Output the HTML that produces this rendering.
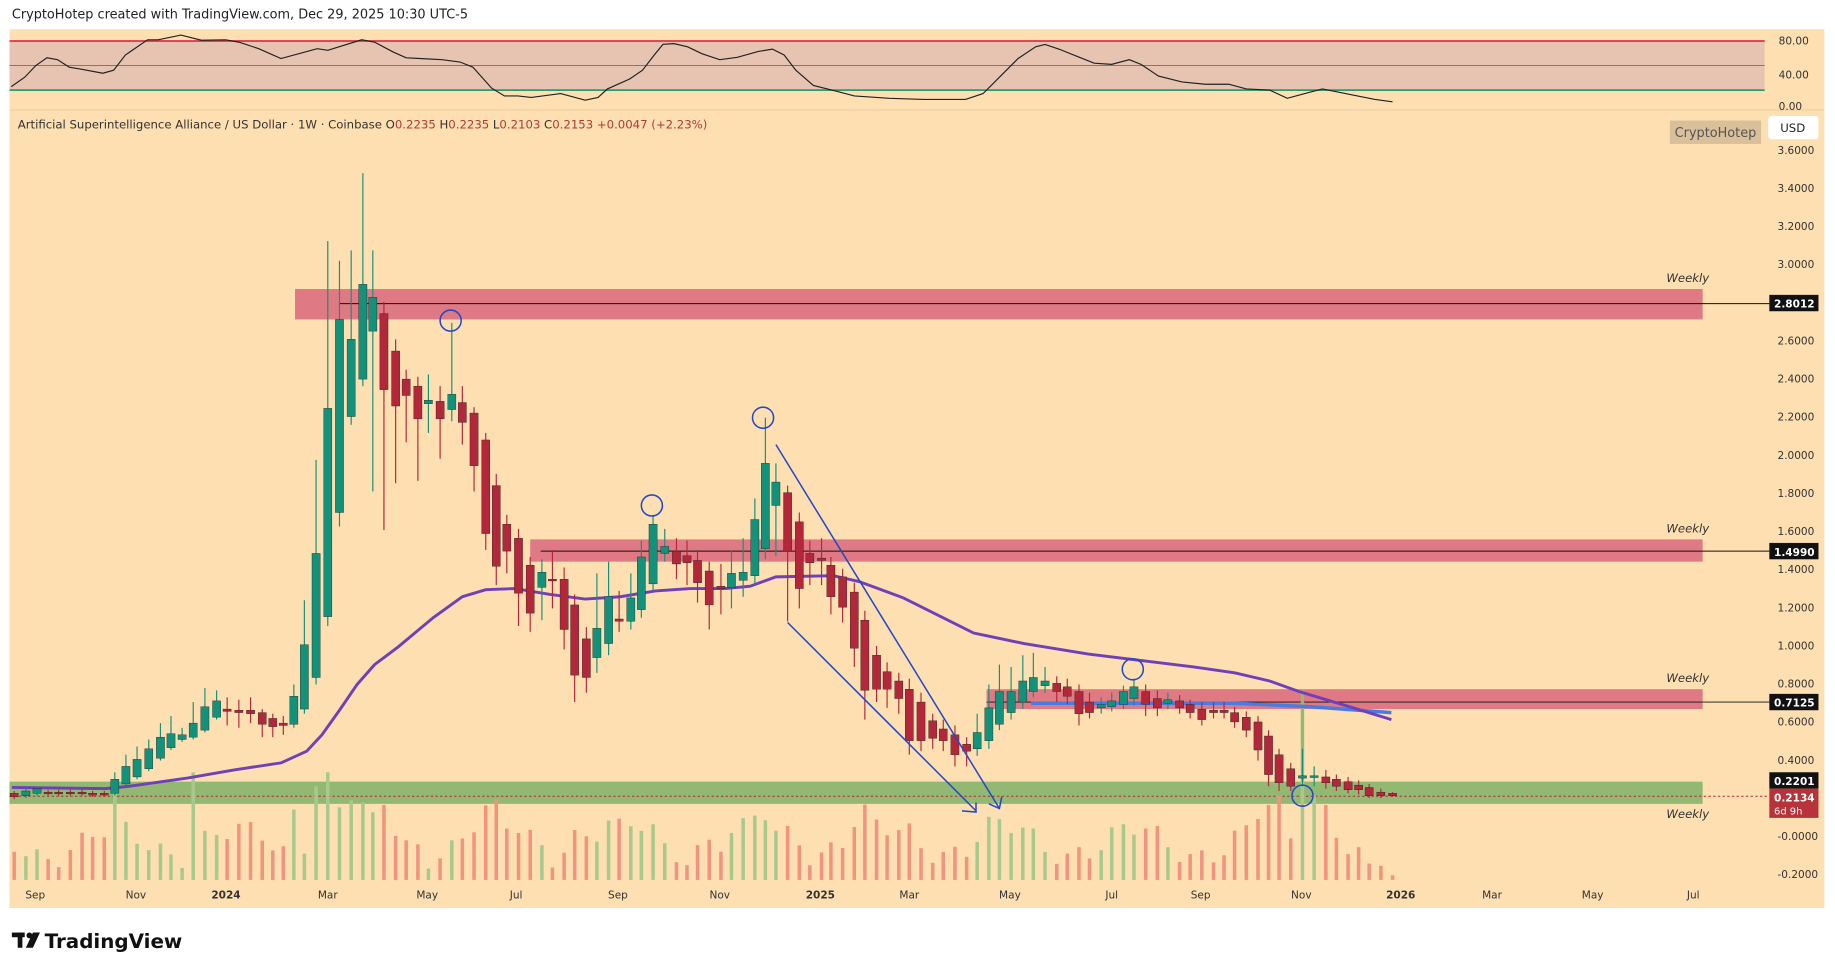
<!DOCTYPE html>
<html><head><meta charset="utf-8"><style>
html,body{margin:0;padding:0;background:#fff;}
svg{display:block;}
text{font-family:"DejaVu Sans","Liberation Sans",sans-serif;}
</style></head><body>
<svg id="s" width="1835" height="970" viewBox="0 0 1568 829" xmlns="http://www.w3.org/2000/svg">
<rect x="0" y="0" width="1568" height="829" fill="#fff"/>
<text x="10" y="16" font-size="11" fill="#222" font-family="Liberation Sans, sans-serif">CryptoHotep created with TradingView.com, Dec 29, 2025 10:30 UTC-5</text>
<rect x="8" y="25" width="1551" height="751" fill="#fddfb1"/>
<rect x="8" y="35" width="1500" height="42" fill="#e6c4b1"/>
<line x1="8" y1="35" x2="1508" y2="35" stroke="#e0304e" stroke-width="1.5"/>
<line x1="8" y1="56" x2="1508" y2="56" stroke="#6b5a50" stroke-width="0.6"/>
<line x1="8" y1="77" x2="1508" y2="77" stroke="#2e9a6e" stroke-width="1.5"/>
<line x1="8" y1="94" x2="1559" y2="94" stroke="#eed0a6" stroke-width="1"/>
<polyline fill="none" stroke="#222" stroke-width="1" points="9.5,74 21,66 30.5,56 40,49.4 49,51 59,57.4 68.7,59 87.7,62.6 97,60 107,47 126,34 135,34 154.5,30 172,34.4 192.6,34 204,36 221,41.6 240,50 271,41.6 280,43 309,34 320,36 336,44.5 347,49.4 358.6,50 377.7,51 393,53 404,57.4 420,75.3 431,82 442.5,82 454,83.3 479,80 500,85.6 511,83.3 519,76 538,67.5 549,60 559,47 566.5,37.9 576,37.3 587.5,40 600,46 615,51 630,49 648,44 660,42 670,47 680,60 695,73 715,78 730,82 760,84 790,85 825,85 840,80 855,65 870,50 885,40 893,38 905,42 920,48 935,54 950,55 965,51 975,55 990,65 1010,70 1030,72 1050,72 1065,76 1085,77 1100,84 1115,80 1130,76 1145,79 1160,82 1175,85 1190,87"/>
<g font-size="9" fill="#333"><text x="1520" y="38">80.00</text><text x="1520" y="67">40.00</text><text x="1520" y="94">0.00</text></g>
<text x="15" y="110" font-size="10" fill="#333" font-family="Liberation Sans, sans-serif">Artificial Superintelligence Alliance / US Dollar · 1W · Coinbase  O<tspan fill="#b23a3a">0.2235</tspan>  H<tspan fill="#b23a3a">0.2235</tspan>  L<tspan fill="#b23a3a">0.2103</tspan>  C<tspan fill="#b23a3a">0.2153</tspan>  <tspan fill="#b23a3a">+0.0047 (+2.23%)</tspan></text>
<rect x="1427" y="103" width="78" height="20" fill="#dac09a"/>
<text x="1466" y="117" font-size="11" fill="#555" text-anchor="middle" font-family="Liberation Sans, sans-serif">CryptoHotep</text>
<rect x="1511" y="99" width="43" height="20" rx="3" fill="#fff"/>
<text x="1532" y="113" font-size="10" fill="#222" text-anchor="middle">USD</text>
<rect x="252" y="247" width="1203" height="26" fill="#df7a84"/>
<rect x="453" y="461" width="1002" height="19" fill="#df7a84"/>
<rect x="843" y="589" width="612" height="17" fill="#df7a84"/>
<rect x="8" y="668" width="1447" height="19" fill="#93b872"/>
<line x1="290" y1="259.5" x2="1512" y2="259.5" stroke="#111" stroke-width="0.8"/>
<line x1="462" y1="471" x2="1512" y2="471" stroke="#111" stroke-width="0.8"/>
<line x1="843" y1="600" x2="1512" y2="600" stroke="#111" stroke-width="0.8"/>
<line x1="8" y1="680.5" x2="1512" y2="680.5" stroke="#b2283a" stroke-width="0.8" stroke-dasharray="2,2"/>
<g font-size="10" font-style="italic" fill="#333" font-family="Liberation Sans, sans-serif">
<text x="1424" y="241">Weekly</text><text x="1424" y="455">Weekly</text><text x="1424" y="583">Weekly</text><text x="1424" y="699">Weekly</text></g>
<g id="vol"></g>
<polyline fill="none" stroke="#4a7be0" stroke-width="3" points="881,601 1000,601 1055,601 1120,604 1189,609"/>
<polyline fill="none" stroke="#7040b8" stroke-width="2.5" points="10,673 90,674 110,672 160,665 200,658 240,652 262,642 275,628 290,607 305,585 320,568 340,553 370,528 395,510 415,504 440,503 470,508 500,512 530,510 560,505 590,503 620,503 641,501 663,493 712,492 734,497 772,511 800,525 832,541 875,550 930,559 979,565 1020,570 1055,575 1085,582 1110,591 1150,603 1189,615"/>
<g id="candles"></g>
<g fill="none" stroke="#2448c8" stroke-width="1.3">
<line x1="663" y1="380" x2="854" y2="691"/>
<polyline points="845,687 854,691 856,681"/>
<line x1="673" y1="532" x2="834" y2="693"/>
<polyline points="822,693 834,694 834,686"/>
<circle cx="385" cy="274" r="9"/><circle cx="557" cy="432" r="9"/><circle cx="652" cy="357" r="9"/><circle cx="968" cy="572" r="9"/><circle cx="1113" cy="680" r="9"/>
</g>
<g id="axis" font-size="9" fill="#333"></g>
<g font-size="9" fill="#fff" font-weight="bold">
<rect x="1512" y="252" width="42" height="14" fill="#111"/><text x="1516" y="263">2.8012</text>
<rect x="1512" y="464" width="42" height="14" fill="#111"/><text x="1516" y="475">1.4990</text>
<rect x="1512" y="593" width="42" height="14" fill="#111"/><text x="1516" y="604">0.7125</text>
<rect x="1512" y="660" width="42" height="14" fill="#111"/><text x="1516" y="671">0.2201</text>
<rect x="1512" y="674" width="42" height="25" fill="#b8323a"/><text x="1516" y="685">0.2134</text><text x="1516" y="696" font-weight="normal" font-size="8.5">6d 9h</text>
</g>
<g id="time" font-size="9" fill="#333"></g>
<g fill="#111">
<rect x="10" y="797" width="11" height="4"/><rect x="15" y="797" width="4" height="13"/>
<circle cx="25" cy="799.5" r="2.5"/><polygon points="28,797 34,797 28,810 22,810"/>
</g>
<text x="38" y="810" font-size="17" font-weight="bold" fill="#111" font-family="Liberation Sans, sans-serif">TradingView</text>
</svg>
<script>
var NS="http://www.w3.org/2000/svg";
function el(p,t,a){var e=document.createElementNS(NS,t);for(var k in a)e.setAttribute(k,a[k]);document.getElementById(p).appendChild(e);return e;}
var labs=["3.6000","3.4000","3.2000","3.0000","2.8000","2.6000","2.4000","2.2000","2.0000","1.8000","1.6000","1.4000","1.2000","1.0000","0.8000","0.6000","0.4000","0.2000","-0.0000","-0.2000"];
for(var i=0;i<labs.length;i++){var y=128+i*32.58;if(labs[i]=="2.8000"||labs[i]=="0.2000")continue;var t=el("axis","text",{x:1519,y:y+3.5});t.textContent=labs[i];}
var tl=[["Sep",30],["Nov",116],["2024",193,1],["Mar",280],["May",365],["Jul",441],["Sep",528],["Nov",615],["2025",701,1],["Mar",777],["May",863],["Jul",950],["Sep",1026],["Nov",1112],["2026",1197,1],["Mar",1275],["May",1361],["Jul",1447]];
tl.forEach(function(a){var t=el("time","text",{x:a[1],y:768,"text-anchor":"middle"});if(a[2])t.setAttribute("font-weight","bold");t.textContent=a[0];});
var C=[[12,678,681],[22,680,676],[31.5,678,674],[41,677,678],[50,677,678],[60,677,678],[70,677,678],[79,678,679],[89,678,679],
[98,678,666,660],[107.5,670,655,645],[117,664,649,638],[127,657,640,632],[137,648,630,618],[146,639,627,612],[155.5,632,628,622],[165,630,618,600],[175,624,604,588],[185,613,599,590],
[194,606,608,596,620],[204,607,609,598,622],[214,607,610,596,618],[224,609,619,606,630],[233,614,621,610,630],[242,618,620,612,628],
[251,619,595,585,622],[260,606,551,513,610],[270,579,473,393,585],[280,527,349,206,535],[290,438,273,223,450],[300,356,290,214,363],[310,324,243,148,330],[318.5,283,254,214,420],
[328,268,333,258,453],[338,300,347,290,413],[347,324,338,316,378],[357,330,358,322,411],[366,345,342,320,370],[376,343,358,330,392],[386,350,337,276,360],[395,344,361,330,380],[405,353,398,348,420],[415,376,456,370,470],[424,415,484,405,500],[433,448,471,440,490],[443,460,507,452,535],[453,483,524,476,540],[463,502,489,478,530],[472,495,496,470,520],[482,495,538,485,555],[491,517,577,508,600],[501,546,579,536,592],[510,562,537,490,575],[520,550,510,480,560],[529,529,531,505,540],[539,531,511,490,538],[548,521,476,462,528],[558,499,448,440,505],[568,473,467,452,480],[578,471,482,460,495],[587,475,481,462,500],[596,479,498,470,515],[606,488,517,480,538],[616,501,503,482,525],[625,502,490,470,520],[635,496,489,460,510],[645,492,444,426,500],[654,469,396,357,478],[663,432,412,396,475],[673,421,471,415,531],[683,446,503,438,520],[692,473,481,462,500],[702,477,479,460,500],
[710,483,510,476,525],[720,493,519,486,532],[730,506,554,498,570],[739,530,590,522,615],[749,560,589,552,600],[758,574,589,566,605],[768,582,597,575,610],[777,589,633,580,645],[787,600,633,592,642],[797,616,631,610,640],[806,623,633,615,642],[816,628,645,620,655],[826,636,642,630,655],
[835,640,626,610,646],[845,633,605,585,640],[854,619,591,568,624],[864,609,591,570,615],[874,600,582,560,606],[883,591,579,558,596],[893,586,582,570,592],[903,584,591,578,600],[912,587,595,580,602],[922,591,610,585,620],[931,600,609,592,614],[941,605,602,596,610],[950,604,599,592,608],[960,602,591,586,606],[969,597,587,580,603],[979,591,602,585,612],[989,597,605,590,612],[998,601,598,592,606],[1008,599,605,594,610],[1017,602,609,598,614],[1027,606,615,600,620],[1037,607,609,600,614],[1046,607,609,600,614],[1055,609,617,604,622],[1065,613,624,608,630],[1075,617,641,612,650],[1084,629,662,624,672],[1093,645,669,640,676],[1103,657,672,652,676],[1113,665,663,640,672],[1123,664,663,655,672],[1133,664,669,658,674],[1142,666,672,662,676],[1152,668,675,664,678],[1161,671,675,667,679],[1170,673,680,670,682],[1180,677,680,674,682],[1190,678,680,677,681]];
var VT={98:672,165:660,262:660,270:672,280:660,328:688,1084:688,1093:680,1113:600,1123:680,1133:688,251:692,290:690,186:694,300:684,1075:700,1142:716,1152:730,1161:724,1170:738,1180:740,1190:748};
C.forEach(function(c,i){
 var x=c[0],o=c[1],cl=c[2],g=cl<=o;
 var top=Math.min(o,cl),bot=Math.max(o,cl);
 var hi=c[3]!==undefined?c[3]:top-2,lo=c[4]!==undefined?c[4]:bot+2;
 var col=g?"#13917a":"#b2283a";
 var vt=VT[Math.round(x)];
 if(vt===undefined){vt=722+14*Math.sin(i*0.55)+8*Math.sin(i*1.7+1)+Math.min(0,(bot-top)*-0.25);}
 el("vol","rect",{x:x-1.5,y:vt,width:3,height:752-vt,fill:g?"#a8c98c":"#f0937f"});
 el("candles","line",{x1:x,y1:hi,x2:x,y2:lo,stroke:col,"stroke-width":1});
 el("candles","rect",{x:x-3.5,y:top,width:7,height:Math.max(bot-top,1.5),fill:col,stroke:"#1a1a1a","stroke-width":0.3});
});
el("vol","line",{x1:1113,y1:590,x2:1113,y2:668,stroke:"#93b872","stroke-width":2.5});
</script>
</body></html>
